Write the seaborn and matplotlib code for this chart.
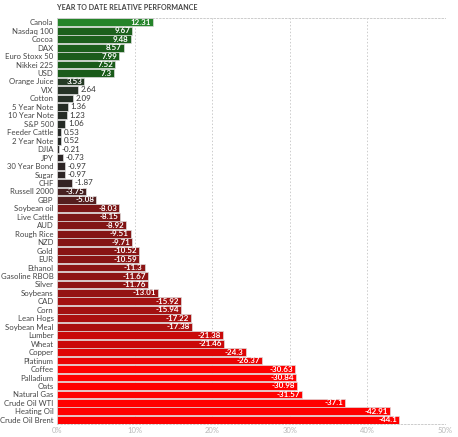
import numpy as np
import pandas as pd
import matplotlib
matplotlib.use("Agg")
import matplotlib.pyplot as plt
import seaborn as sns
from matplotlib.colors import LinearSegmentedColormap, Normalize

# Year-to-date performance (%)
assets = [
    "Canola", "Nasdaq 100", "Cocoa", "DAX", "Euro Stoxx 50", "Nikkei 225", "USD",
    "Orange Juice", "VIX", "Cotton", "5 Year Note", "10 Year Note", "S&P 500",
    "Feeder Cattle", "2 Year Note", "DJIA", "JPY", "30 Year Bond", "Sugar", "CHF",
    "Russell 2000", "GBP", "Soybean oil", "Live Cattle", "AUD", "Rough Rice", "NZD",
    "Gold", "EUR", "Ethanol", "Gasoline RBOB", "Silver", "Soybeans", "CAD", "Corn",
    "Lean Hogs", "Soybean Meal", "Lumber", "Wheat", "Copper", "Platinum", "Coffee",
    "Palladium", "Oats", "Natural Gas", "Crude Oil WTI", "Heating Oil", "Crude Oil Brent",
]
ytd = [
    12.31, 9.67, 9.48, 8.57, 7.99, 7.52, 7.3,
    3.53, 2.64, 2.09, 1.36, 1.23, 1.06,
    0.53, 0.52, -0.21, -0.73, -0.97, -0.97, -1.87,
    -3.75, -5.08, -8.03, -8.15, -8.92, -9.51, -9.71,
    -10.52, -10.59, -11.3, -11.67, -11.76, -13.01, -15.92, -15.94,
    -17.22, -17.38, -21.38, -21.46, -24.3, -26.37, -30.63,
    -30.84, -30.98, -31.57, -37.1, -42.91, -44.1,
]
ticks = [0, 10, 20, 30, 40, 50]

df = pd.DataFrame({"asset": assets, "ytd": ytd})
df["size"] = df["ytd"].abs()

# colour scale from deep loss (bright red) through near-black to gains (green)
lo, hi = -44.1, 12.31
stops = [(-30, "#ff0000"), (-24, "#dd0505"), (-17, "#a81010"), (-8, "#7c1616"),
         (-5, "#561e1e"), (-2, "#352424"), (0, "#252525"), (3, "#263326"),
         (7, "#1a5a1a"), (10, "#1c601c"), (12.31, "#25842a")]
pos = [0.0] + [(v - lo) / (hi - lo) for v, _ in stops]
cols = [stops[0][1]] + [c for _, c in stops]
cmap = LinearSegmentedColormap.from_list("perf", list(zip(pos, cols)))
norm = Normalize(lo, hi)
palette = {a: cmap(norm(v)) for a, v in zip(assets, ytd)}

sns.set_style("white")
plt.rcParams["font.family"] = ["Lato", "DejaVu Sans"]

fig = plt.figure(figsize=(4.58, 4.37), dpi=100)
ax = fig.add_axes([0.1245, 0.0297, 0.847, 0.929])

sns.barplot(data=df, x="size", y="asset", hue="asset", palette=palette,
            order=assets, legend=False, width=0.92, edgecolor="#dddddd",
            linewidth=0.5, saturation=1, ax=ax)

for i, (v, s) in enumerate(zip(df["ytd"], df["size"])):
    txt = f"{v:g}"
    if s >= 3:
        ax.text(s - 0.25, i, txt, ha="right", va="center", color="white",
                fontsize=5.8, fontweight="bold")
    else:
        ax.text(s + 0.35, i, txt, ha="left", va="center", color="#333333",
                fontsize=5.8)

ax.set_xlim(0, 50)
ax.set_ylim(len(assets) - 0.5, -0.5)
ax.set_xticks(ticks)
ax.set_xticklabels([f"{t}%" for t in ticks])
ax.tick_params(axis="x", labelsize=5.5, labelcolor="#b8b8b8", length=0, pad=2)
ax.tick_params(axis="y", labelsize=5.6, labelcolor="#444444", length=0, pad=2.5)
ax.set_xlabel("")
ax.set_ylabel("")
for t in ticks[1:]:
    ax.axvline(t, color="#cccccc", lw=0.7, ls=(0, (1.5, 2)), zorder=0)
for sp in ["left", "right"]:
    ax.spines[sp].set_visible(False)
for sp in ["top", "bottom"]:
    ax.spines[sp].set_color("#cccccc")
    ax.spines[sp].set_linewidth(0.7)
    ax.spines[sp].set_linestyle((0, (1.5, 2)))

fig.text(0.1245, 0.99, "YEAR TO DATE RELATIVE PERFORMANCE", ha="left", va="top",
         fontsize=5.1, fontweight="bold", color="#444444")

fig.savefig("out.png", dpi=100)
